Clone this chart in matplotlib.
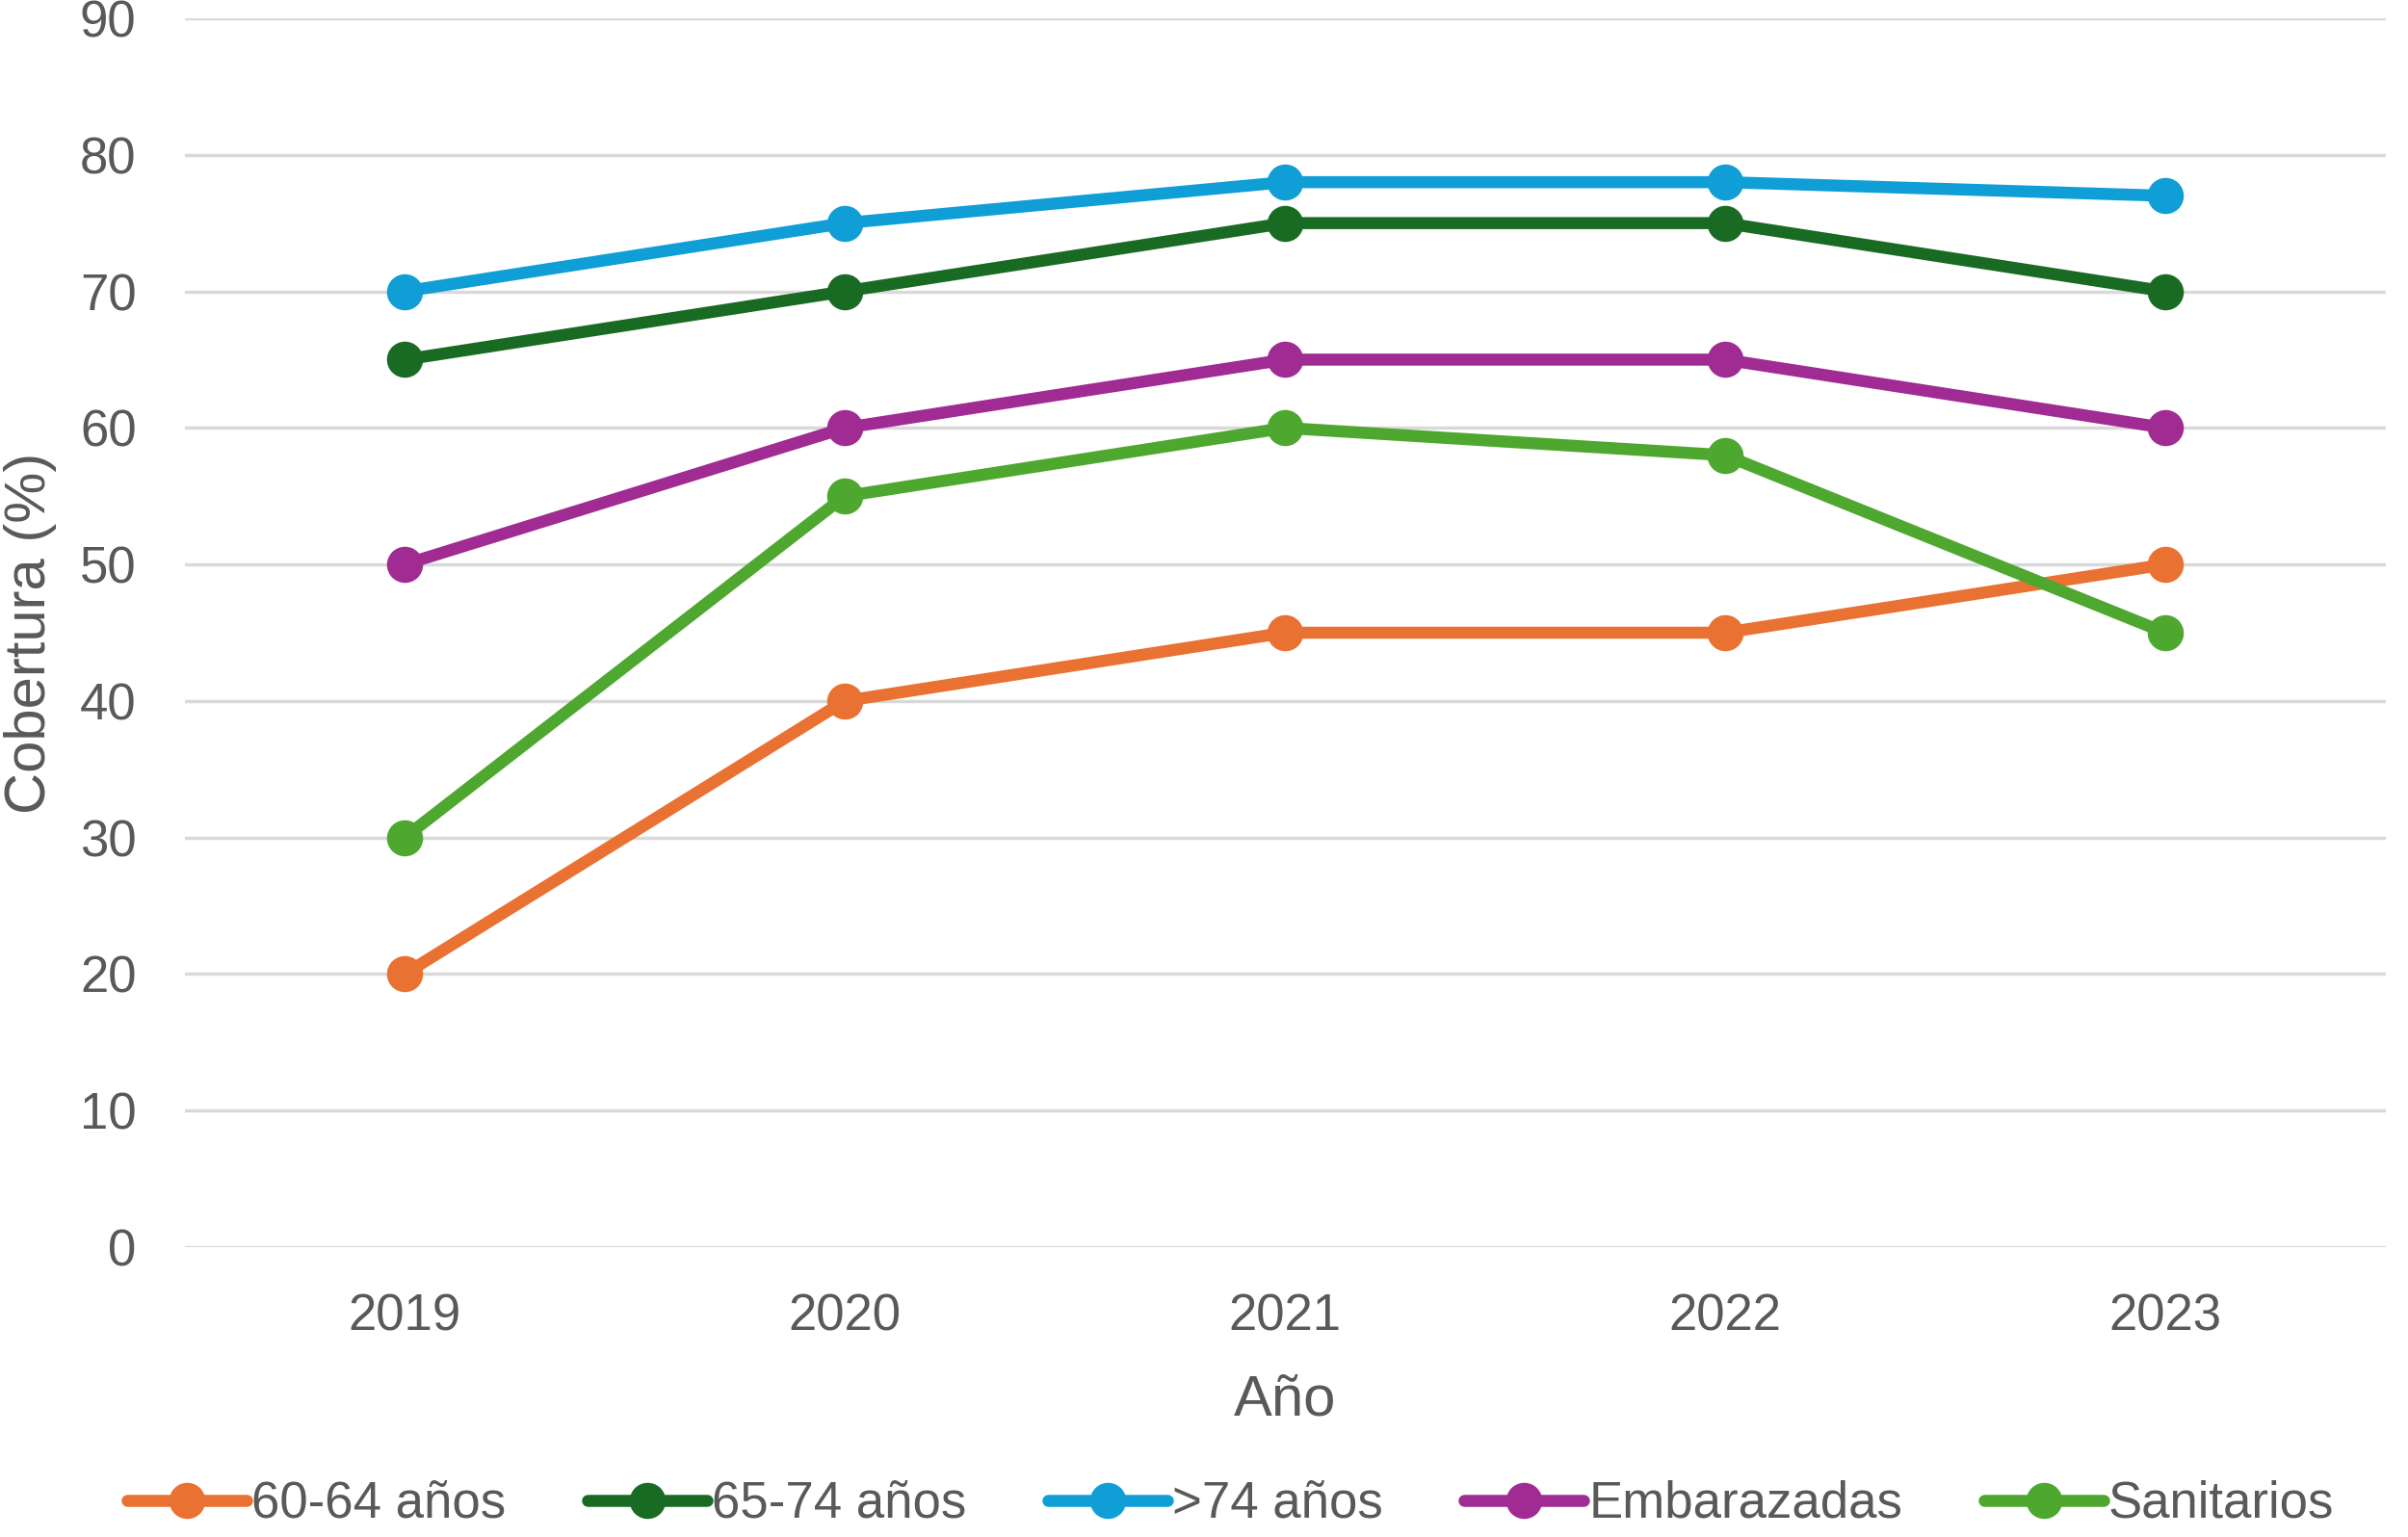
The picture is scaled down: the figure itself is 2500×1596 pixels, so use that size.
import matplotlib
matplotlib.use("Agg")
import matplotlib.pyplot as plt

# ---------------------- DATA ----------------------
years = ["2019", "2020", "2021", "2022", "2023"]
g_60_64 = [20, 40, 45, 45, 50]
g_65_74 = [65, 70, 75, 75, 70]
g_74_plus = [70, 75, 78, 78, 77]
embarazadas = [50, 60, 65, 65, 60]
sanitarios = [30, 55, 60, 58, 45]

series_names = ["60-64 años", "65-74 años", ">74 años", "Embarazadas", "Sanitarios"]
series_values = [g_60_64, g_65_74, g_74_plus, embarazadas, sanitarios]
series_colors = ["#E97132", "#196B24", "#0F9ED5", "#A02B93", "#4EA72E"]

y_ticks = list(range(0, 100, 10))

# ---------------------- STYLE ----------------------
plt.rcParams['font.family'] = ['Liberation Sans', 'DejaVu Sans']
text_color = "#595959"
fs = 38
fs_title = 43

fig = plt.figure(figsize=(25, 15.96), dpi=100)
ax = fig.add_axes([191.5 / 2500, 1 - 1295 / 1596, 2285 / 2500, (1295 - 19) / 1596])

x = list(range(len(years)))
for name, vals, col in zip(series_names, series_values, series_colors):
    ax.plot(x, vals, color=col, linewidth=9, marker='o', markersize=26,
            label=name, solid_capstyle='round', zorder=3)

ax.set_xlim(-0.5, len(years) - 0.5)
ax.set_ylim(0, 90)
ax.set_xticks(x)
ax.set_xticklabels(years)
ax.set_yticks(y_ticks)

for s in ax.spines.values():
    s.set_visible(False)
ax.grid(axis='y', color='#D9D9D9', linewidth=2.5, zorder=0)
ax.tick_params(axis='both', length=0, labelsize=fs, colors=text_color)
ax.tick_params(axis='y', pad=36)
ax.tick_params(axis='x', pad=34)

ax.set_xlabel("Año", fontsize=fs_title, color=text_color)
ax.xaxis.set_label_coords(0.5, -0.103)
ax.set_ylabel("Cobertura (%)", fontsize=fs_title, color=text_color)
ax.yaxis.set_label_coords(-0.058, 0.5)

fig.legend(loc='center', bbox_to_anchor=(0.511, 1 - 1562 / 1596), ncol=5,
           frameon=False, fontsize=fs, labelcolor=text_color,
           handlelength=2.35, handletextpad=0.1, columnspacing=1.6)

fig.savefig("out.png", dpi=100, facecolor="white")
